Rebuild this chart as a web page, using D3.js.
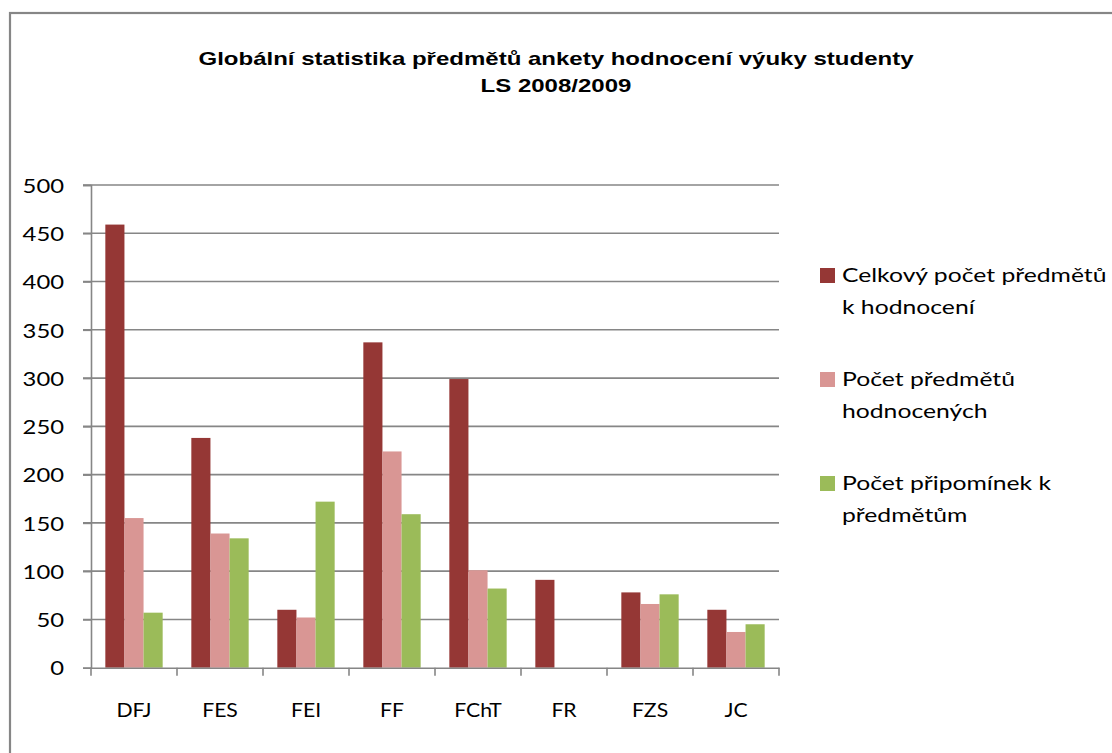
<!DOCTYPE html>
<html><head><meta charset="utf-8">
<script src="https://cdn.jsdelivr.net/npm/d3@7"></script>
<style>body{margin:0;background:#fff}svg{display:block}</style>
</head><body>
<svg id="c" width="1112" height="753"></svg>
<script>
const categories = ["DFJ","FES","FEI","FF","FChT","FR","FZS","JC"];
const seriesNames = [["Celkový počet předmětů","k hodnocení"],["Počet předmětů","hodnocených"],["Počet připomínek k","předmětům"]];
const celkovy = [459,238,60,337,299,91,78,60];
const hodnocenych = [155,139,52,224,101,0,66,37];
const pripominek = [57,134,172,159,82,0,76,45];
const yTicks = [0,50,100,150,200,250,300,350,400,450,500];
const colors = ["#953735","#D99694","#9BBB59"];
const titleLines = ["Globální statistika předmětů ankety hodnocení výuky studenty","LS 2008/2009"];

const series = [celkovy, hodnocenych, pripominek];
const svg = d3.select("#c");
const font = "Lato, 'Open Sans', sans-serif";
const grid = "#868686";

function stretch(sel, f){
  sel.each(function(){
    const w = this.getComputedTextLength();
    d3.select(this).attr("textLength", w*f).attr("lengthAdjust","spacingAndGlyphs");
  });
}

// outer border
svg.append("rect").attr("x",10).attr("y",13).attr("width",1120).attr("height",760)
  .attr("fill","none").attr("stroke",grid).attr("stroke-width",2.2);

// title
const tt = svg.append("g").selectAll("text").data(titleLines).join("text")
  .attr("x",556).attr("y",(d,i)=>65+i*27).attr("text-anchor","middle")
  .attr("font-family","'Liberation Sans', Arial, sans-serif").attr("font-weight","bold")
  .attr("font-size",19).attr("fill","#000").text(d=>d);
const w0 = tt.node().getComputedTextLength();
stretch(tt, 715 / w0);

const x0 = d3.scaleBand().domain(categories).range([91,779]).paddingInner(0).paddingOuter(0);
const x1 = d3.scaleBand().domain([0,1,2]).range([0,x0.bandwidth()]).paddingOuter(0.75).paddingInner(0);
const y = d3.scaleLinear().domain([0,500]).range([667.7,185]);

// gridlines
svg.append("g").selectAll("line").data(yTicks.filter(t=>t>0)).join("line")
  .attr("x1",83).attr("x2",779).attr("y1",d=>y(d)).attr("y2",d=>y(d))
  .attr("stroke",grid).attr("stroke-width",1.6);

// y axis
const ya = svg.append("g").attr("transform","translate(91,0)")
  .call(d3.axisLeft(y).tickValues(yTicks).tickSize(8).tickPadding(19));
ya.select(".domain").attr("stroke",grid).attr("stroke-width",1.6);
ya.selectAll(".tick line").attr("stroke",grid).attr("stroke-width",1.6);
ya.selectAll(".tick text").attr("font-family",font).attr("font-size",20).attr("fill","#000").attr("dy","0.36em");
stretch(ya.selectAll(".tick text"), 1.19);

// bars
const g = svg.append("g");
categories.forEach((c,ci)=>{
  series.forEach((s,si)=>{
    if(s[ci]<=0) return;
    g.append("rect").attr("x",x0(c)+x1(si)).attr("width",x1.bandwidth())
      .attr("y",y(s[ci])).attr("height",y(0)-y(s[ci])).attr("fill",colors[si]);
  });
});

// x axis
const xa = svg.append("g").attr("transform",`translate(0,${y(0)})`)
  .call(d3.axisBottom(x0).tickSize(0));
xa.select(".domain").attr("stroke",grid).attr("stroke-width",1.6);
xa.selectAll(".tick text").attr("font-family",font).attr("font-size",20).attr("fill","#000")
  .attr("y",49.3).attr("dy",0);
stretch(xa.selectAll(".tick text"), 1.06);
svg.append("g").selectAll("line").data(d3.range(categories.length+1)).join("line")
  .attr("x1",d=>91+d*x0.bandwidth()).attr("x2",d=>91+d*x0.bandwidth())
  .attr("y1",y(0)).attr("y2",y(0)+8).attr("stroke",grid).attr("stroke-width",1.6);

// legend
const lg = svg.append("g");
seriesNames.forEach((lines,i)=>{
  const top = 268 + i*104;
  lg.append("rect").attr("x",820).attr("y",top).attr("width",15).attr("height",15).attr("fill",colors[i]);
  lines.forEach((t,j)=>{
    lg.append("text").attr("x",842).attr("y",top+14+j*32)
      .attr("font-family",font).attr("font-size",20).attr("fill","#000").text(t);
  });
});
stretch(lg.selectAll("text"), 1.235);
</script>
</body></html>
